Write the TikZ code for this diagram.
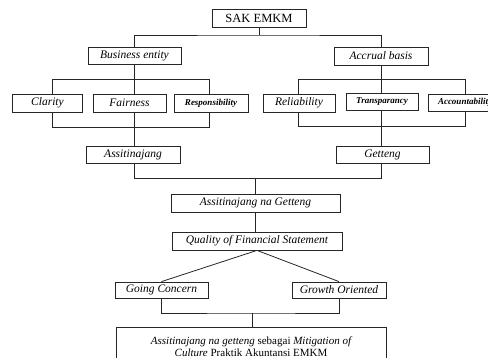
\documentclass[tikz,border=0pt]{standalone}
\usepackage{fontspec}
\setmainfont{Liberation Serif}
\usetikzlibrary{positioning,calc}

\begin{document}
\begin{tikzpicture}[x=1pt, y=-1pt,
    kotak/.style={draw=black!85, rectangle, line width=0.8pt, inner sep=0pt, minimum height=17pt, font=\fontsize{11.5}{13}\selectfont\itshape},
    kecil/.style={font=\fontsize{9}{10}\selectfont\bfseries\itshape},
    garis/.style={draw=black!85, line width=0.8pt}]
    \useasboundingbox (0,0) rectangle (488,358);
    \clip (0,0) rectangle (488,358);

    % level atas
    \node[kotak, font=\fontsize{12.5}{14}\selectfont, minimum width=94pt, minimum height=18pt] (sak) at (259,18) {SAK EMKM};
    \node[kotak, minimum width=93pt] (bisnis) at (134.5,55.5) {Business entity};
    \node[kotak, minimum width=94pt, minimum height=18pt] (akrual) at (381,56) {Accrual basis};

    % prinsip
    \node[kotak, minimum width=70pt, minimum height=18pt] (clarity) at (47.5,103) {Clarity};
    \node[kotak, minimum width=73pt, minimum height=18pt] (fair) at (129.5,103) {Fairness};
    \node[kotak, kecil, minimum width=74pt, minimum height=18pt] (resp) at (211,103) {Responsibility};
    \node[kotak, minimum width=72pt, minimum height=18pt] (reliab) at (299,103) {Reliability};
    \node[kotak, kecil, minimum width=72pt] (transp) at (382,102) {\raisebox{2pt}{Transparancy}};
    \node[kotak, kecil, minimum width=74pt] (account) at (465,102.5) {Accountability};

    \node[kotak, minimum width=94pt] (assi) at (133,154.5) {Assitinajang};
    \node[kotak, minimum width=93pt] (getteng) at (382.5,154.5) {Getteng};

    \node[kotak, minimum width=169pt, minimum height=18pt] (ang) at (255.5,203) {Assitinajang na Getteng};
    \node[kotak, minimum width=170pt, minimum height=18pt] (quality) at (257,241) {Quality of Financial Statement};

    \node[kotak, minimum width=93pt, minimum height=16pt] (going) at (161.5,290) {Going Concern};
    \node[kotak, minimum width=94pt, minimum height=16pt] (growth) at (339,290) {Growth Oriented};

    \node[kotak, font=\fontsize{11}{12}\selectfont, align=center, minimum width=270pt, minimum height=40pt] (mitig) at (251,347)
        {\itshape Assitinajang na getteng\upshape{} sebagai \itshape Mitigation of\\ \itshape Culture\upshape{} Praktik Akuntansi EMKM};

    % titik cabang
    \coordinate (j1) at (259,35);
    \coordinate (j2) at (134.5,79);
    \coordinate (l1) at (52,79);
    \coordinate (l3) at (209,79);
    \coordinate (l1b) at (52,127);
    \coordinate (l3b) at (209,127);
    \coordinate (j3) at (381,79);
    \coordinate (r1) at (298,79);
    \coordinate (r3) at (465,79);
    \coordinate (r1b) at (298,126);
    \coordinate (r3b) at (465,126);
    \coordinate (j5) at (255.5,178);
    \coordinate (j6) at (252,313);

    \draw[garis] (sak) -- (j1);
    \draw[garis] (bisnis) |- (j1) -| (akrual);

    \draw[garis] (bisnis) -- (j2);
    \draw[garis] (l1 |- clarity.north) -- (l1) -- (l3) -- (l3 |- resp.north);
    \draw[garis] (j2) -- (j2 |- fair.north);
    \draw[garis] (l1 |- clarity.south) -- (l1b) -- (l3b) -- (l3 |- resp.south);
    \draw[garis] (j2 |- fair.south) -- (j2 |- assi.north);

    \draw[garis] (akrual) -- (j3);
    \draw[garis] (r1 |- reliab.north) -- (r1) -- (r3) -- (r3 |- account.north);
    \draw[garis] (j3) -- (j3 |- transp.north);
    \draw[garis] (r1 |- reliab.south) -- (r1b) -- (r3b) -- (r3 |- account.south);
    \draw[garis] (j3 |- transp.south) -- (j3 |- getteng.north);

    \draw[garis] (j2 |- assi.south) |- (j3 |- j5) -- (j3 |- getteng.south);
    \draw[garis] (j5) -- (ang);
    \draw[garis] (ang) -- (ang |- quality.north);

    \draw[garis] (quality.south) -- (going.north);
    \draw[garis] (quality.south) -- (growth.north);
    \draw[garis] (going) |- (j6) -| (growth);
    \draw[garis] (j6) -- (j6 |- mitig.north);
\end{tikzpicture}
\end{document}
